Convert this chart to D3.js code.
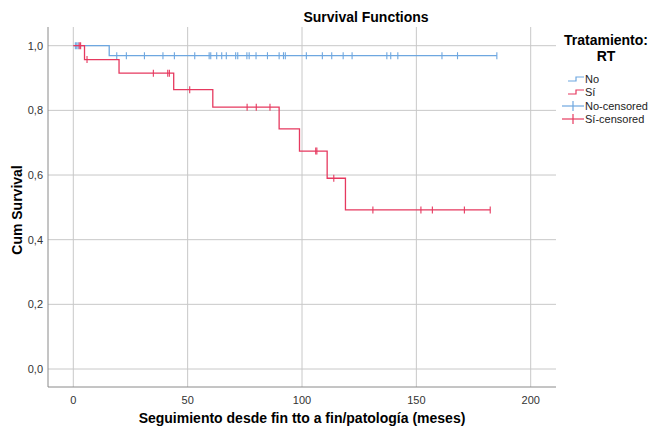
<!DOCTYPE html>
<html>
<head>
<meta charset="utf-8">
<script src="https://cdn.jsdelivr.net/npm/d3@7"></script>
<style>
  body { margin: 0; background: #fff; }
  text { font-family: "Liberation Sans", Arial, sans-serif; }
</style>
</head>
<body>
<div class="svg-container"></div>
<script>
// Kaplan-Meier steps
const noStepTimes = [0, 15.7];
const noStepSurv = [1.0, 0.969];
const noEnd = 185.2;
const noCensored = [0.9, 1.5, 2.1, 19.0, 23.2, 31.1, 39.2, 44.2, 53.1, 59.4, 60.1, 62.7, 64.9, 66.9,
  71.0, 71.9, 75.9, 76.9, 79.9, 84.9, 90.0, 91.9, 92.7, 101.9, 108.9, 113.0, 118.0, 121.9,
  137.1, 138.8, 141.9, 161.2, 168.0, 185.2];

const siStepTimes = [0, 4.9, 20.0, 43.9, 61.0, 90.0, 98.9, 111.0, 119.0];
const siStepSurv = [1.0, 0.957, 0.915, 0.864, 0.810, 0.743, 0.674, 0.590, 0.492];
const siEnd = 182.3;
const siCensored = [2.6, 3.2, 6.0, 35.0, 41.3, 42.0, 50.9, 76.0, 80.0, 86.0, 106.0, 106.5,
  113.9, 131.0, 152.0, 157.0, 171.0, 182.3];

const xTicks = [0, 50, 100, 150, 200];
const yTicks = [0, 0.2, 0.4, 0.6, 0.8, 1.0];
const legendLabels = ['No', 'Sí', 'No-censored', 'Sí-censored'];

function renderSurvival() {
  const width = 651;
  const height = 435;
  const plot = { left: 48, right: 556, top: 27, bottom: 387 };
  const blue = '#6ea7e0';
  const red = '#e6395f';

  const svg = d3.select('.svg-container')
    .append('svg')
    .attr('width', width)
    .attr('height', height);

  const x = d3.scaleLinear().domain([0, 200]).range([73.3, 530.7]);
  const y = d3.scaleLinear().domain([0, 1]).range([369, 45.7]);

  // gridlines
  svg.append('g').selectAll('line')
    .data(xTicks)
    .enter()
    .append('line')
    .attr('x1', d => x(d)).attr('x2', d => x(d))
    .attr('y1', plot.top).attr('y2', plot.bottom)
    .attr('stroke', '#c8c8c8');

  svg.append('g').selectAll('line')
    .data(yTicks)
    .enter()
    .append('line')
    .attr('x1', plot.left).attr('x2', plot.right)
    .attr('y1', d => y(d)).attr('y2', d => y(d))
    .attr('stroke', '#c8c8c8');

  // axis lines
  svg.append('line')
    .attr('x1', plot.left).attr('x2', plot.left)
    .attr('y1', plot.top).attr('y2', plot.bottom)
    .attr('stroke', '#8a8a8a');
  svg.append('line')
    .attr('x1', plot.left).attr('x2', plot.right)
    .attr('y1', plot.bottom).attr('y2', plot.bottom)
    .attr('stroke', '#8a8a8a');

  // tick labels
  const fmt = d3.format('.1f');
  svg.append('g').selectAll('text')
    .data(yTicks)
    .enter()
    .append('text')
    .attr('x', 43)
    .attr('y', d => y(d) + 4)
    .attr('text-anchor', 'end')
    .attr('font-size', 11)
    .attr('fill', '#333')
    .text(d => fmt(d).replace('.', ','));

  svg.append('g').selectAll('text')
    .data(xTicks)
    .enter()
    .append('text')
    .attr('x', d => x(d))
    .attr('y', 404)
    .attr('text-anchor', 'middle')
    .attr('font-size', 11)
    .attr('fill', '#333')
    .text(d => d);

  // titles
  svg.append('text')
    .attr('x', 366).attr('y', 22)
    .attr('text-anchor', 'middle')
    .attr('font-size', 14).attr('font-weight', 'bold')
    .text('Survival Functions');

  svg.append('text')
    .attr('x', 302).attr('y', 423)
    .attr('text-anchor', 'middle')
    .attr('font-size', 14).attr('font-weight', 'bold')
    .text('Seguimiento desde fin tto a fin/patología (meses)');

  svg.append('text')
    .attr('transform', 'translate(22,210) rotate(-90)')
    .attr('text-anchor', 'middle')
    .attr('font-size', 14).attr('font-weight', 'bold')
    .text('Cum Survival');

  // survival curves
  const line = d3.line()
    .x(d => x(d[0]))
    .y(d => y(d[1]))
    .curve(d3.curveStepAfter);

  function survAt(times, surv, t) {
    const i = d3.bisectRight(times, t) - 1;
    return surv[Math.max(0, i)];
  }

  function drawGroup(times, surv, end, censored, color) {
    const pts = times.map((t, i) => [t, surv[i]]);
    pts.push([end, surv[surv.length - 1]]);
    svg.append('path')
      .datum(pts)
      .attr('d', line)
      .attr('fill', 'none')
      .attr('stroke', color)
      .attr('stroke-width', 1.3);

    svg.append('g').selectAll('line')
      .data(censored)
      .enter()
      .append('line')
      .attr('x1', d => x(d)).attr('x2', d => x(d))
      .attr('y1', d => y(survAt(times, surv, d)) - 3.5)
      .attr('y2', d => y(survAt(times, surv, d)) + 3.5)
      .attr('stroke', color)
      .attr('stroke-width', 1.1);
  }

  drawGroup(noStepTimes, noStepSurv, noEnd, noCensored, blue);
  drawGroup(siStepTimes, siStepSurv, siEnd, siCensored, red);

  // legend
  const legend = svg.append('g');
  legend.append('text')
    .attr('x', 606).attr('y', 45)
    .attr('text-anchor', 'middle')
    .attr('font-size', 14).attr('font-weight', 'bold')
    .text('Tratamiento:');
  legend.append('text')
    .attr('x', 606).attr('y', 61)
    .attr('text-anchor', 'middle')
    .attr('font-size', 14).attr('font-weight', 'bold')
    .text('RT');

  const legendColors = [blue, red, blue, red];
  const legendY = [79, 92, 106, 119];
  legendLabels.forEach((label, i) => {
    const ly = legendY[i];
    const c = legendColors[i];
    if (i < 2) {
      legend.append('path')
        .attr('d', `M568,${ly + 2}H576V${ly - 2}H584`)
        .attr('fill', 'none')
        .attr('stroke', c)
        .attr('stroke-width', 1.2);
    } else {
      legend.append('line')
        .attr('x1', 562).attr('x2', 584)
        .attr('y1', ly).attr('y2', ly)
        .attr('stroke', c).attr('stroke-width', 1.2);
      legend.append('line')
        .attr('x1', 573).attr('x2', 573)
        .attr('y1', ly - 5).attr('y2', ly + 5)
        .attr('stroke', c).attr('stroke-width', 1.2);
    }
    legend.append('text')
      .attr('x', 585).attr('y', ly + 4)
      .attr('font-size', 11)
      .attr('fill', '#222')
      .text(label);
  });
}

renderSurvival();
</script>
</body>
</html>
